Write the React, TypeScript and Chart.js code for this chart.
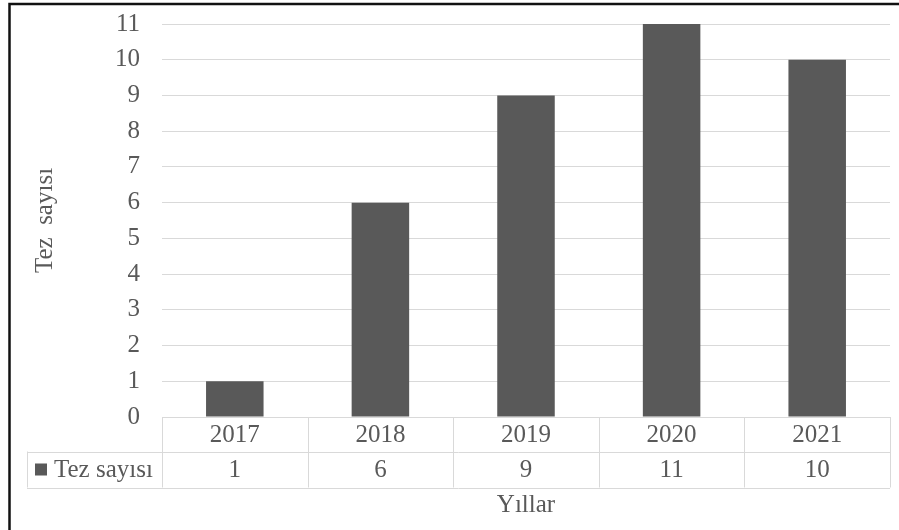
import React, { useEffect, useRef } from "react";
import { Chart, registerables } from "chart.js";

Chart.register(...registerables);

const categories = ["2017", "2018", "2019", "2020", "2021"];
const values = [1, 6, 9, 11, 10];
const seriesName = "Tez sayısı";
const yTitle = "Tez  sayısı";
const xTitle = "Yıllar";
const yMin = 0;
const yMax = 11;

const FONT = "'Liberation Serif', 'Times New Roman', serif";
const FS = 25;
const TEXT = "#595959";
const GRID = "#d9d9d9";
const BAR = "#595959";

const tablePlugin = {
  id: "dataTable",
  afterDraw(chart: any) {
    const { ctx, chartArea } = chart;
    const x = chart.scales.x;
    const n = categories.length;
    const w = (x.right - x.left) / n;
    const top = chartArea.bottom;
    const r1 = top + 34.5;
    const r2 = r1 + 36;
    const legendLeft = 27;
    const px = (v: number) => Math.round(v) + 0.5;

    ctx.save();
    ctx.strokeStyle = GRID;
    ctx.lineWidth = 1;
    ctx.beginPath();
    ctx.moveTo(x.left, px(top));
    ctx.lineTo(x.right, px(top));
    ctx.moveTo(legendLeft, px(r1));
    ctx.lineTo(x.right, px(r1));
    ctx.moveTo(legendLeft, px(r2));
    ctx.lineTo(x.right, px(r2));
    for (let i = 0; i <= n; i++) {
      const xx = px(x.left + i * w);
      ctx.moveTo(xx, top);
      ctx.lineTo(xx, r2);
    }
    ctx.moveTo(px(legendLeft), r1);
    ctx.lineTo(px(legendLeft), r2);
    ctx.stroke();

    ctx.fillStyle = TEXT;
    ctx.font = `${FS}px ${FONT}`;
    ctx.textAlign = "center";
    ctx.textBaseline = "middle";
    categories.forEach((c, i) => {
      const cx = x.getPixelForValue(i);
      ctx.fillText(c, cx, (top + r1) / 2 + 1);
      ctx.fillText(String(values[i]), cx, (r1 + r2) / 2 + 1);
    });

    // legend key
    ctx.fillStyle = BAR;
    ctx.fillRect(35, (r1 + r2) / 2 - 6, 12, 12);
    ctx.fillStyle = TEXT;
    ctx.textAlign = "left";
    ctx.fillText(seriesName, 54, (r1 + r2) / 2 + 1);

    // outer frame (top and left edges)
    ctx.strokeStyle = "#111";
    ctx.lineWidth = 2.5;
    ctx.beginPath();
    ctx.moveTo(9.5, chart.height);
    ctx.lineTo(9.5, 4);
    ctx.lineTo(chart.width, 4);
    ctx.stroke();
    ctx.restore();
  },
};

export default function App() {
  const ref = useRef<HTMLCanvasElement>(null);

  useEffect(() => {
    if (!ref.current) return;
    const chart = new Chart(ref.current, {
      type: "bar",
      data: {
        labels: categories,
        datasets: [
          {
            label: seriesName,
            data: values,
            backgroundColor: BAR,
            borderWidth: 0,
            categoryPercentage: 1,
            barPercentage: 0.395,
          },
        ],
      },
      options: {
        animation: false,
        responsive: true,
        maintainAspectRatio: false,
        devicePixelRatio: 1,
        layout: { padding: { top: 24, right: 9, left: 0, bottom: 0 } },
        plugins: {
          legend: { display: false },
          tooltip: { enabled: false },
        },
        scales: {
          x: {
            grid: { display: false, drawTicks: false },
            border: { display: false },
            ticks: { display: false },
            title: {
              display: true,
              text: xTitle,
              color: TEXT,
              font: { family: FONT, size: FS },
              padding: { top: 0, bottom: 10 },
            },
            afterFit: (s: any) => {
              s.height = 113;
            },
          },
          y: {
            min: yMin,
            max: yMax,
            grid: { color: GRID, drawTicks: false, lineWidth: 1 },
            border: { display: false },
            ticks: {
              stepSize: 1,
              padding: 22,
              color: TEXT,
              font: { family: FONT, size: FS },
            },
            title: {
              display: true,
              text: yTitle,
              color: TEXT,
              font: { family: FONT, size: FS },
              padding: { top: 30, bottom: 0 },
            },
            afterFit: (s: any) => {
              s.width = 162;
              s.paddingTop = 0;
              s.paddingBottom = 0;
            },
          },
        },
      },
      plugins: [tablePlugin],
    });
    return () => chart.destroy();
  }, []);

  return (
    <div style={{ position: "absolute", left: 0, top: 0, width: 899, height: 530, background: "#fff" }}>
      <canvas ref={ref} />
    </div>
  );
}
